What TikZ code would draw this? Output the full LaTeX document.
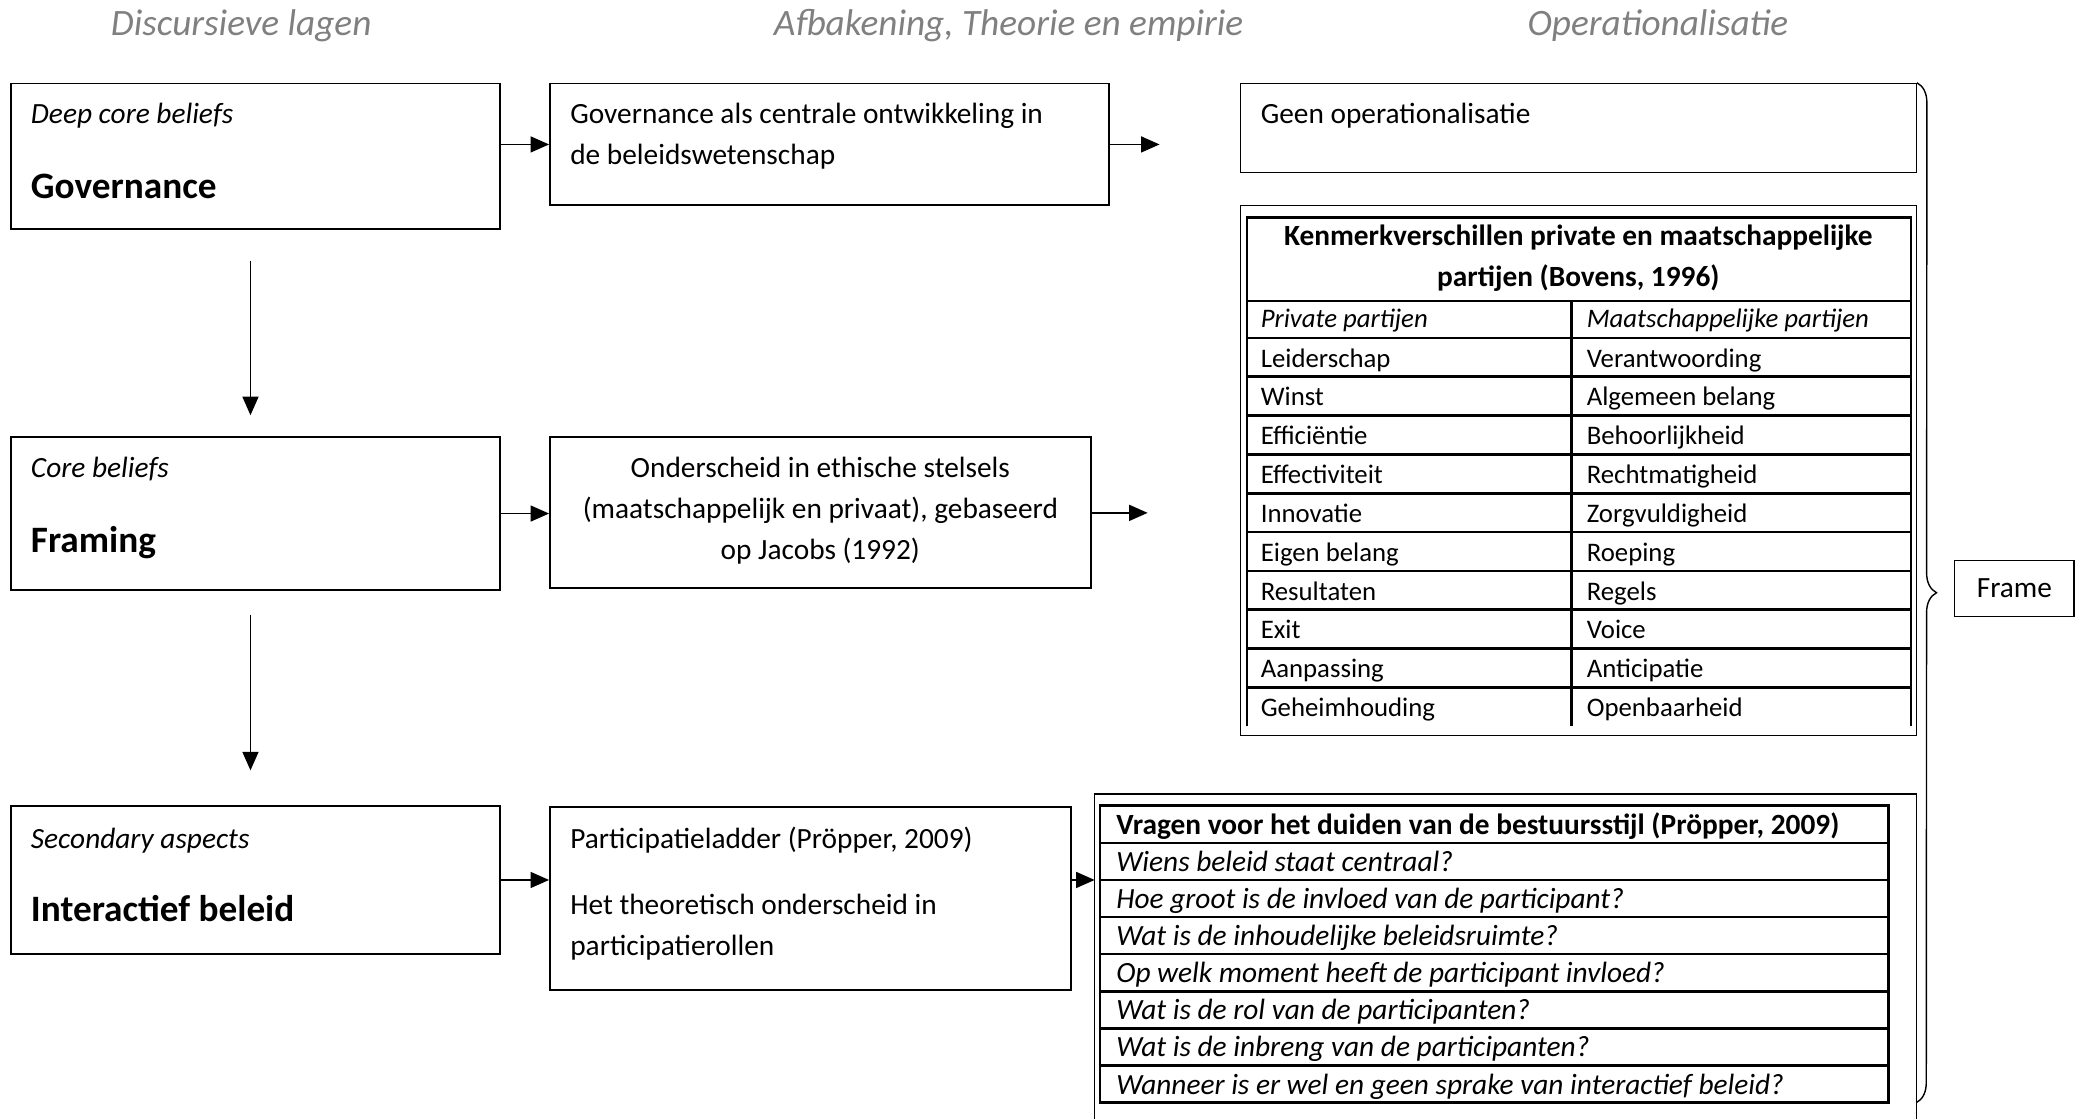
\documentclass[tikz,border=0pt]{standalone}
\usepackage{fontspec}
\setmainfont{Carlito}
\usetikzlibrary{arrows.meta,positioning,decorations.pathreplacing}

\definecolor{kopgrijs}{RGB}{128,128,128}

\tikzset{
  vak/.style={draw, line width=0.8pt, inner sep=0pt},
  kader/.style={draw, line width=0.6pt, inner sep=0pt},
  tabellijn/.style={line width=1.1pt},
  tekst/.style={anchor=base west, inner sep=0pt, align=left, font=\fontsize{12.6}{17.6}\selectfont},
  schuin/.style={tekst, font=\fontsize{12.6}{17.6}\selectfont\itshape},
  kop/.style={inner sep=0pt, text=kopgrijs, font=\fontsize{16}{19}\selectfont\itshape},
  titel/.style={anchor=base west, inner sep=0pt, font=\fontsize{16}{19}\selectfont\bfseries},
  cel/.style={anchor=base west, inner sep=0pt, font=\fontsize{11.5}{17.6}\selectfont},
  vraag/.style={anchor=base west, inner sep=0pt, font=\fontsize{12.6}{17.6}\selectfont\itshape},
  pijl/.style={-{Triangle[length=0.28cm,width=0.24cm]}, line width=0.8pt},
  dun/.style={line width=0.6pt},
}

\begin{document}
\begin{tikzpicture}[x=0.02cm, y=-0.02cm]
	\useasboundingbox (0,0) rectangle (1568,844);

	% koppen
	\node[kop] (kopLagen) at (182,19.5) {Discursieve lagen};
	\node[kop] (kopTheorie) at (761,19.5) {Afbakening, Theorie en empirie};
	\node[kop] (kopOper) at (1251,19.5) {Operationalisatie};

	% discursieve lagen
	\node[vak, minimum width=7.38cm, minimum height=2.2cm] (lagA) at (192.5,118) {};
	\node[schuin] (lagAsub) at (23,93) {Deep core beliefs};
	\node[titel] (lagAtit) at (23,150) {Governance};

	\node[vak, minimum width=7.38cm, minimum height=2.3cm] (lagB) at (192.5,387.5) {};
	\node[schuin] (lagBsub) at (23,360) {Core beliefs};
	\node[titel] (lagBtit) at (23,417) {Framing};

	\node[vak, minimum width=7.38cm, minimum height=2.24cm] (lagC) at (192.5,664) {};
	\node[schuin] (lagCsub) at (23,640) {Secondary aspects};
	\node[titel] (lagCtit) at (23,695) {Interactief beleid};

	% theorie
	\node[vak, minimum width=8.44cm, minimum height=1.84cm] (theoA) at (626,109) {};
	\node[tekst] (theoAtxt) at (430,124) {Governance als centrale ontwikkeling in\\de beleidswetenschap};

	\node[vak, minimum width=8.16cm, minimum height=2.28cm] (theoB) at (619,387) {};
	\node[tekst, anchor=base, align=center] (theoBtxt) at (619,422) {Onderscheid in ethische stelsels\\(maatschappelijk en privaat), gebaseerd\\op Jacobs (1992)};

	\node[vak, minimum width=7.86cm, minimum height=2.76cm] (theoC) at (611.5,678) {};
	\node[tekst] (theoCtxt) at (430,640) {Participatieladder (Pröpper, 2009)};
	\node[tekst] (theoCrol) at (430,721) {Het theoretisch onderscheid in\\participatierollen};

	% pijlen
	\draw[pijl, shorten <=0.46cm, shorten >=0.32cm] ([xshift=-0.07cm]lagA.south) -- ([xshift=-0.07cm]lagB.north);
	\draw[pijl, shorten <=0.36cm, shorten >=0.52cm] ([xshift=-0.07cm]lagB.south) -- ([xshift=-0.07cm]lagC.north);
	\draw[pijl] (lagA.east |- theoA.west) -- (theoA.west);
	\draw[pijl] (lagB.east) -- (lagB.east -| theoB.west);
	\draw[pijl] (lagC.east) -- (lagC.east -| theoC.west);

	\coordinate (eindA) at (875,109);
	\coordinate (eindB) at (866,387);
	\coordinate (vragenlinks) at (826,599);
	\draw[pijl] (theoA.east) -- (eindA);
	\draw[pijl] (theoB.east) -- (eindB);
	\draw[pijl] (lagC.east -| theoC.east) -- (lagC.east -| vragenlinks);

	% operationalisatie
	\node[kader, minimum width=10.2cm, minimum height=1.34cm] (operA) at (1191,96.5) {};
	\node[tekst] (operAtxt) at (951,93) {Geen operationalisatie};

	\node[kader, minimum width=10.2cm, minimum height=8cm] (operB) at (1191,355) {};
	\draw[tabellijn] (941,548) -- (941,164) -- (1442,164) -- (1442,548);
	\draw[tabellijn] (941,227) -- (1442,227);
	\draw[tabellijn] (1186,227) -- (1186,548);
	\foreach \k in {0,...,9}
		\draw[tabellijn] (941,{255+29.3*\k}) -- (1442,{255+29.3*\k});
	\node[tekst, anchor=base, align=center, font=\fontsize{12.6}{17.6}\selectfont\bfseries] (kenmerktitel) at (1191,216.5) {Kenmerkverschillen private en maatschappelijke\\partijen (Bovens, 1996)};
	\node[cel, font=\fontsize{11.5}{17.6}\selectfont\itshape] (privkop) at (951,247.5) {Private partijen};
	\node[cel, font=\fontsize{11.5}{17.6}\selectfont\itshape] (maatkop) at (1197,247.5) {Maatschappelijke partijen};
	\foreach \p/\m [count=\i] in {Leiderschap/Verantwoording, Winst/Algemeen belang, Efficiëntie/Behoorlijkheid, Effectiviteit/Rechtmatigheid, Innovatie/Zorgvuldigheid, Eigen belang/Roeping, Resultaten/Regels, Exit/Voice, Aanpassing/Anticipatie, Geheimhouding/Openbaarheid}{
		\node[cel] (priv\i) at (951,{247.7+29.3*\i}) {\p};
		\node[cel] (maat\i) at (1197,{247.7+29.3*\i}) {\m};
	}

	\draw[kader] (826,844) -- (vragenlinks) -- (1446,599) -- (1446,844);
	\draw[tabellijn] (830,608) rectangle (1425,832);
	\foreach \k in {1,...,7}
		\draw[tabellijn] (830,{608+28*\k}) -- (1425,{608+28*\k});
	\node[vraag, font=\fontsize{12.6}{17.6}\selectfont\bfseries] (vragentitel) at (842,629.5) {Vragen voor het duiden van de bestuursstijl (Pröpper, 2009)};
	\foreach \q [count=\i] in {Wiens beleid staat centraal?, Hoe groot is de invloed van de participant?, Wat is de inhoudelijke beleidsruimte?, Op welk moment heeft de participant invloed?, Wat is de rol van de participanten?, Wat is de inbreng van de participanten?, Wanneer is er wel en geen sprake van interactief beleid?}
		\node[vraag] (vraag\i) at (842,{629.5+28*\i}) {\q};

	% accolade
	\coordinate (accoladeonder) at (1446,832);
	\draw[dun, decorate, decoration={brace, amplitude=0.3cm}] (operA.north east) -- (accoladeonder);
	\node[kader, minimum width=1.8cm, minimum height=0.84cm, font=\fontsize{12.6}{17.6}\selectfont] (frame) at (1520,444) {Frame};
\end{tikzpicture}
\end{document}
